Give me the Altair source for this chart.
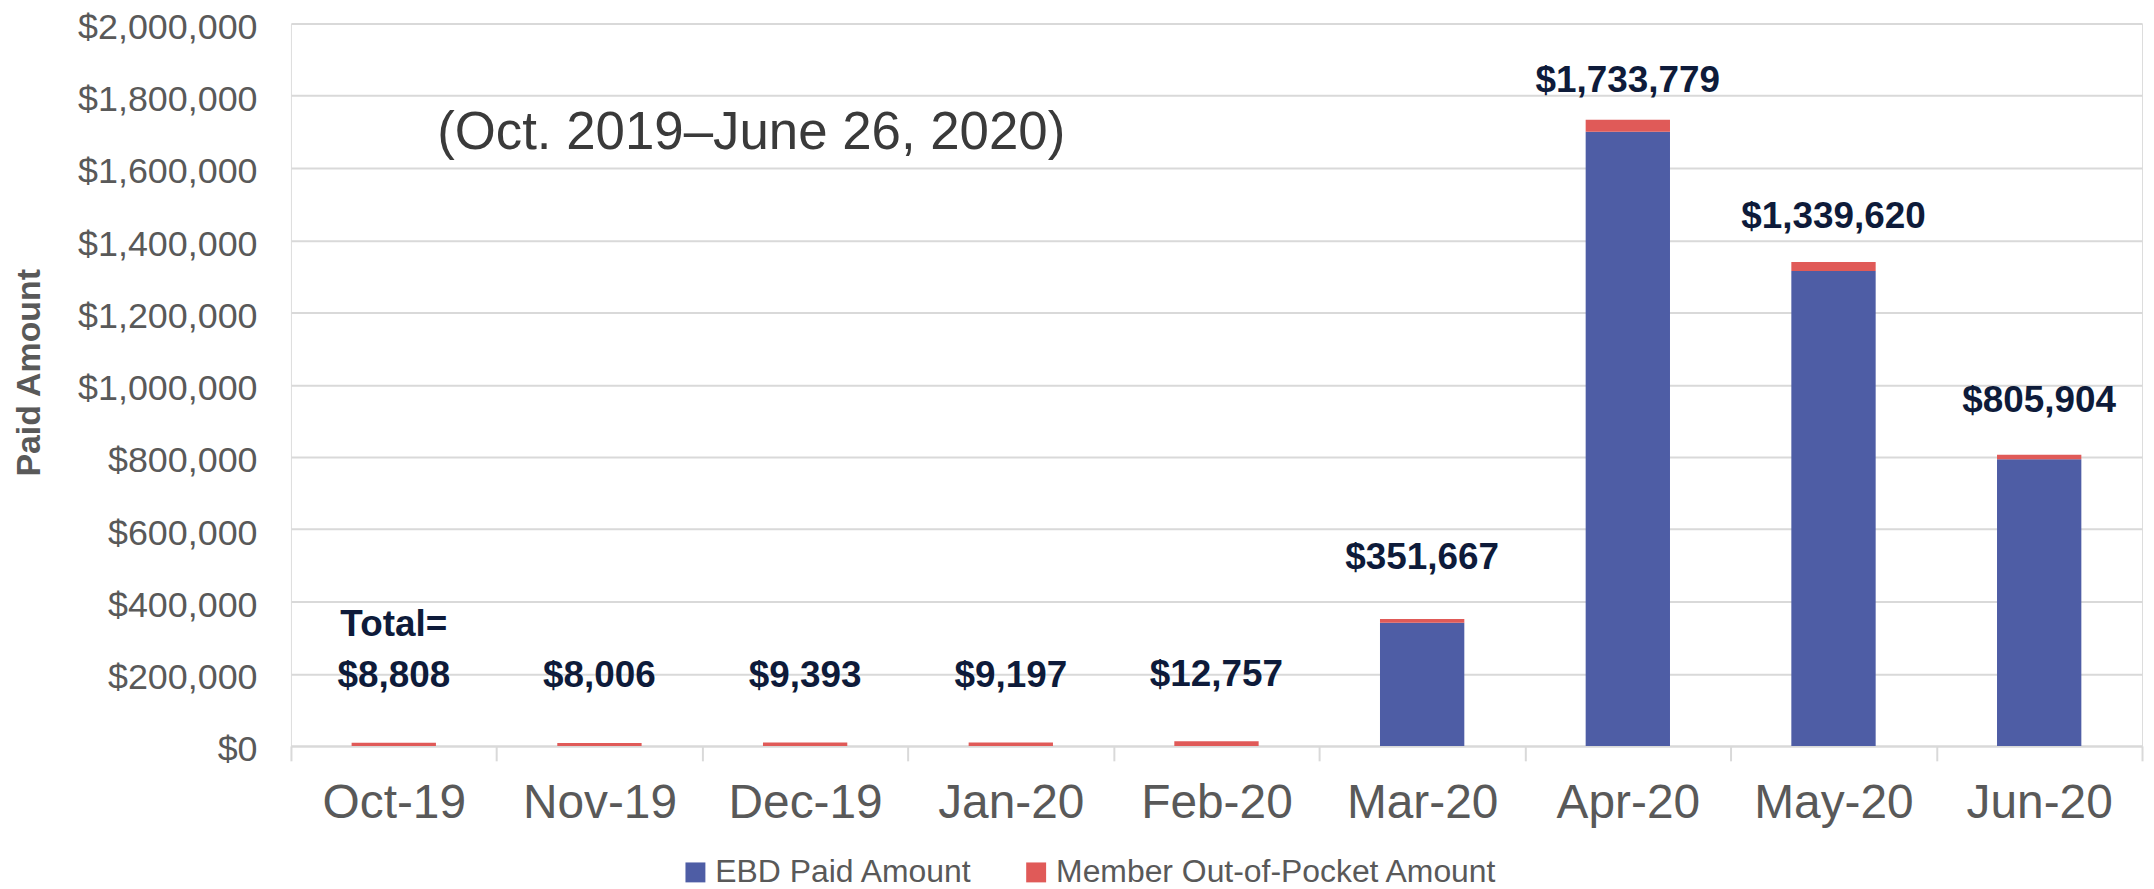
import altair as alt
import pandas as pd

months = ["Oct-19", "Nov-19", "Dec-19", "Jan-20", "Feb-20", "Mar-20", "Apr-20", "May-20", "Jun-20"]
totals = [8808, 8006, 9393, 9197, 12757, 351667, 1733779, 1339620, 805904]
member_oop = [8808, 8006, 9393, 9197, 12757, 11000, 33000, 25000, 12000]
ebd_paid = [t - m for t, m in zip(totals, member_oop)]
series_names = ["EBD Paid Amount", "Member Out-of-Pocket Amount"]
series_colors = ["#4e5da5", "#e05a58"]
label_texts = [f"${v:,}" for v in totals]
prefix_text = "Total="
subtitle = "(Oct. 2019\u2013June 26, 2020)"
y_ticks = list(range(0, 2000001, 200000))

FONT = "Liberation Sans"
GRAY = "#595959"
GRID = "#d9d9d9"
NAVY = "#0e1b3a"

rows = []
for i, m in enumerate(months):
    rows.append({"month": m, "series": series_names[0], "value": ebd_paid[i], "ord": 0})
    rows.append({"month": m, "series": series_names[1], "value": member_oop[i], "ord": 1})
bars_df = pd.DataFrame(rows)
labels_df = pd.DataFrame({"month": months, "total": totals, "label": label_texts})
prefix_df = pd.DataFrame({"month": [months[0]], "total": [totals[0]], "label": [prefix_text]})
sub_df = pd.DataFrame({"t": [subtitle]})

x_enc = alt.X(
    "month:N",
    sort=months,
    scale=alt.Scale(paddingInner=0, paddingOuter=0),
    axis=alt.Axis(
        title=None,
        labelAngle=0,
        labelFontSize=48,
        labelColor=GRAY,
        labelPadding=19,
        labelLimit=400,
        tickBand="extent",
        tickSize=15,
        tickColor=GRID,
        tickWidth=2,
        domainColor=GRID,
        domainWidth=2,
        grid=False,
    ),
)

y_scale = alt.Scale(domain=[0, 2000000], nice=False)

bars = (
    alt.Chart(bars_df)
    .mark_bar(width=alt.RelativeBandSize(0.41))
    .encode(
        x=x_enc,
        y=alt.Y(
            "value:Q",
            stack="zero",
            scale=y_scale,
            axis=alt.Axis(
                values=y_ticks,
                format="$,.0f",
                title="Paid Amount",
                titleFontSize=34,
                titleFontWeight="bold",
                titleColor=GRAY,
                titleX=-262,
                titleY=350,
                titleBaseline="middle",
                titleAngle=270,
                titleLimit=600,
                labelFontSize=36,
                labelOffset=4,
                labelColor=GRAY,
                labelPadding=34,
                labelLimit=400,
                ticks=False,
                domain=False,
                grid=True,
                gridColor=GRID,
                gridWidth=2,
            ),
        ),
        color=alt.Color(
            "series:N",
            scale=alt.Scale(domain=series_names, range=series_colors),
            legend=alt.Legend(
                title=None,
                orient="none",
                direction="horizontal",
                legendX=390,
                legendY=836,
                symbolType="square",
                symbolSize=400,
                symbolStrokeWidth=0,
                labelFontSize=32,
                labelColor=GRAY,
                labelOffset=4,
                labelLimit=800,
                columnPadding=48,
            ),
        ),
        order=alt.Order("ord:Q"),
    )
)

label_y = alt.Y("ly:Q", scale=y_scale)

labels = (
    alt.Chart(labels_df)
    .transform_calculate(ly="190345 + 0.9545 * datum.total")
    .mark_text(fontSize=37, fontWeight="bold", color=NAVY, baseline="bottom", align="center", dy=21)
    .encode(x=alt.X("month:N", sort=months), y=label_y, text="label:N")
)

prefix = (
    alt.Chart(prefix_df)
    .transform_calculate(ly="190345 + 0.9545 * datum.total")
    .mark_text(fontSize=37, fontWeight="bold", color=NAVY, baseline="bottom", align="center", dy=-30)
    .encode(x=alt.X("month:N", sort=months), y=label_y, text="label:N")
)

sub = (
    alt.Chart(sub_df)
    .mark_text(fontSize=53, color="#3a3a3a", align="center", baseline="middle")
    .encode(x=alt.value(462), y=alt.value(110), text="t:N")
)

chart = (
    alt.layer(bars, labels, prefix, sub)
    .properties(
        width=1858,
        height=725,
        autosize=alt.AutoSizeParams(type="none"),
        padding={"left": 284, "top": 14, "right": 4, "bottom": 142},
        background="white",
    )
    .configure_view(stroke=None)
    .configure(font=FONT)
)

chart.save("out.html", embed_options={"renderer": "svg", "actions": False})
